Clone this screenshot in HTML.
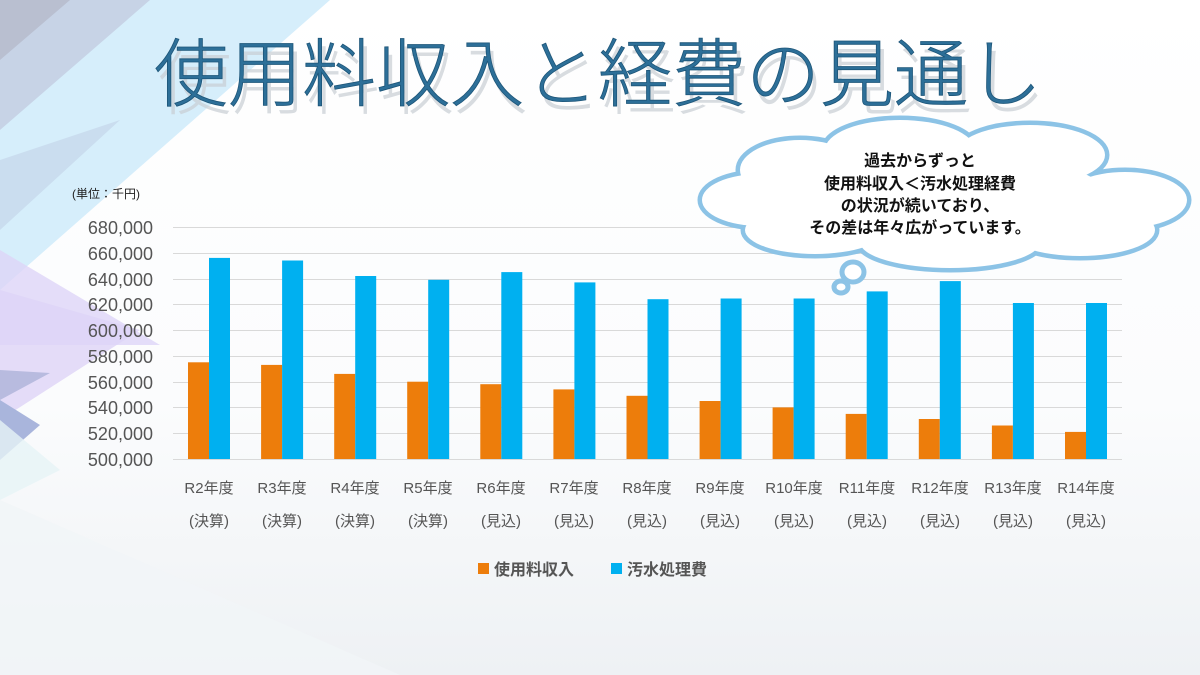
<!DOCTYPE html>
<html><head><meta charset="utf-8"><style>
html,body{margin:0;padding:0;width:1200px;height:675px;overflow:hidden;background:#fff}
svg text{font-family:"Liberation Sans","Noto Sans CJK JP",sans-serif}
</style></head><body>
<svg width="1200" height="675" viewBox="0 0 1200 675" xmlns="http://www.w3.org/2000/svg">
<defs>
<linearGradient id="bg" x1="0" y1="0" x2="0" y2="1"><stop offset="0" stop-color="#ffffff"/><stop offset="0.6" stop-color="#fbfcfd"/><stop offset="1" stop-color="#eef1f4"/></linearGradient>
</defs>
<rect width="1200" height="675" fill="url(#bg)"/>
<polygon points="0,0 330,0 0,290" fill="#d6eefb"/>
<polygon points="0,0 150,0 0,130" fill="#c7d3e6"/>
<polygon points="0,60 70,0 0,0" fill="#b9bfd0"/>
<polygon points="0,160 120,120 0,230" fill="#c5d6ea" opacity="0.7"/>
<polygon points="0,290 140,330 0,420" fill="#e4dcf8"/>
<polygon points="0,250 160,345 0,345" fill="#ddd5f7" opacity="0.8"/>
<polygon points="0,370 50,373 0,400" fill="#b8bbdf"/>
<polygon points="0,400 40,425 0,460" fill="#a9b5dc"/>
<polygon points="0,420 60,470 0,500" fill="#e6f4f6" opacity="0.8"/>
<polygon points="0,500 400,675 0,675" fill="#f1f5f8" opacity="0.8"/>
<!-- title -->
<text x="598" y="102" text-anchor="middle" font-size="74" fill="#c8ced4" opacity="0.7" style="font-family:'Noto Sans CJK JP',sans-serif" font-weight="300" transform="translate(4,6)">使用料収入と経費の見通し</text>
<text x="598" y="100" text-anchor="middle" font-size="74" fill="#2d6f98" stroke="#1d5578" stroke-width="0.8" style="font-family:'Noto Sans CJK JP',sans-serif" font-weight="300">使用料収入と経費の見通し</text>
<text x="72" y="198" font-size="12" fill="#222">(単位：千円)</text>
<!-- grid -->
<g stroke="#d9d9d9" stroke-width="1">
<line x1="173" x2="1122" y1="227.5" y2="227.5"/><line x1="173" x2="1122" y1="253.5" y2="253.5"/>
<line x1="173" x2="1122" y1="279.5" y2="279.5"/><line x1="173" x2="1122" y1="304.5" y2="304.5"/>
<line x1="173" x2="1122" y1="330.5" y2="330.5"/><line x1="173" x2="1122" y1="356.5" y2="356.5"/>
<line x1="173" x2="1122" y1="382.5" y2="382.5"/><line x1="173" x2="1122" y1="407.5" y2="407.5"/>
<line x1="173" x2="1122" y1="433.5" y2="433.5"/><line x1="173" x2="1122" y1="459.5" y2="459.5"/>
</g>
<g font-size="18" fill="#555" text-anchor="end">
<text x="153" y="234">680,000</text><text x="153" y="260">660,000</text><text x="153" y="286">640,000</text>
<text x="153" y="311">620,000</text><text x="153" y="337">600,000</text><text x="153" y="363">580,000</text>
<text x="153" y="389">560,000</text><text x="153" y="414">540,000</text><text x="153" y="440">520,000</text>
<text x="153" y="466">500,000</text>
</g>
<g fill="#ed7d0b">
<rect x="188" y="362.3" width="21" height="96.7"/><rect x="261.1" y="364.9" width="21" height="94.1"/>
<rect x="334.2" y="373.9" width="21" height="85.1"/><rect x="407.2" y="381.7" width="21" height="77.3"/>
<rect x="480.3" y="384.2" width="21" height="74.8"/><rect x="553.4" y="389.4" width="21" height="69.6"/>
<rect x="626.5" y="395.8" width="21" height="63.2"/><rect x="699.6" y="401" width="21" height="58"/>
<rect x="772.6" y="407.4" width="21" height="51.6"/><rect x="845.7" y="413.9" width="21" height="45.1"/>
<rect x="918.8" y="419" width="21" height="40"/><rect x="991.9" y="425.5" width="21" height="33.5"/>
<rect x="1065" y="431.9" width="21" height="27.1"/>
</g>
<g fill="#00b0f0">
<rect x="209" y="257.9" width="21" height="201.1"/><rect x="282.1" y="260.5" width="21" height="198.5"/>
<rect x="355.2" y="276" width="21" height="183"/><rect x="428.2" y="279.8" width="21" height="179.2"/>
<rect x="501.3" y="272.1" width="21" height="186.9"/><rect x="574.4" y="282.4" width="21" height="176.6"/>
<rect x="647.5" y="299.2" width="21" height="159.8"/><rect x="720.6" y="298.5" width="21" height="160.5"/>
<rect x="793.6" y="298.5" width="21" height="160.5"/><rect x="866.7" y="291.4" width="21" height="167.6"/>
<rect x="939.8" y="281.1" width="21" height="177.9"/><rect x="1012.9" y="303" width="21" height="156"/>
<rect x="1086" y="303" width="21" height="156"/>
</g>
<g font-size="15" fill="#555" text-anchor="middle">
<text x="209" y="493">R2年度</text><text x="282" y="493">R3年度</text><text x="355" y="493">R4年度</text>
<text x="428" y="493">R5年度</text><text x="501" y="493">R6年度</text><text x="574" y="493">R7年度</text>
<text x="647" y="493">R8年度</text><text x="720" y="493">R9年度</text><text x="794" y="493">R10年度</text>
<text x="867" y="493">R11年度</text><text x="940" y="493">R12年度</text><text x="1013" y="493">R13年度</text>
<text x="1086" y="493">R14年度</text>
<text x="209" y="526">(決算)</text><text x="282" y="526">(決算)</text><text x="355" y="526">(決算)</text>
<text x="428" y="526">(決算)</text><text x="501" y="526">(見込)</text><text x="574" y="526">(見込)</text>
<text x="647" y="526">(見込)</text><text x="720" y="526">(見込)</text><text x="794" y="526">(見込)</text>
<text x="867" y="526">(見込)</text><text x="940" y="526">(見込)</text><text x="1013" y="526">(見込)</text>
<text x="1086" y="526">(見込)</text>
</g>
<rect x="478" y="563" width="11" height="11" fill="#ed7d0b"/>
<text x="494" y="575" font-size="16" font-weight="bold" fill="#555">使用料収入</text>
<rect x="611" y="563" width="11" height="11" fill="#00b0f0"/>
<text x="627" y="575" font-size="16" font-weight="bold" fill="#555">汚水処理費</text>
<!-- cloud: stroke layer then same-shape fill layer => union outline -->
<g fill="#fff" stroke="#8cc3e6" stroke-width="9">
<ellipse cx="800" cy="170" rx="60" ry="30"/>
<ellipse cx="900" cy="150" rx="75" ry="30"/>
<ellipse cx="1030" cy="155" rx="75" ry="30"/>
<ellipse cx="1125" cy="200" rx="62" ry="28"/>
<ellipse cx="1080" cy="230" rx="75" ry="26"/>
<ellipse cx="950" cy="242" rx="90" ry="26"/>
<ellipse cx="815" cy="230" rx="70" ry="24"/>
<ellipse cx="760" cy="200" rx="58" ry="26"/>
<ellipse cx="940" cy="200" rx="170" ry="50"/>
</g>
<g fill="#fff" stroke="none">
<ellipse cx="800" cy="170" rx="60" ry="30"/>
<ellipse cx="900" cy="150" rx="75" ry="30"/>
<ellipse cx="1030" cy="155" rx="75" ry="30"/>
<ellipse cx="1125" cy="200" rx="62" ry="28"/>
<ellipse cx="1080" cy="230" rx="75" ry="26"/>
<ellipse cx="950" cy="242" rx="90" ry="26"/>
<ellipse cx="815" cy="230" rx="70" ry="24"/>
<ellipse cx="760" cy="200" rx="58" ry="26"/>
<ellipse cx="940" cy="200" rx="170" ry="50"/>
</g>
<g fill="#fff" stroke="#8cc3e6" stroke-width="5">
<ellipse cx="853" cy="272" rx="11" ry="10"/>
<ellipse cx="841" cy="287" rx="7" ry="6"/>
</g>
<g font-size="16" font-weight="bold" fill="#111" text-anchor="middle" style="font-family:'Noto Serif CJK SC','Noto Sans CJK JP',serif">
<text x="920" y="166">過去からずっと</text>
<text x="920" y="189">使用料収入＜汚水処理経費</text>
<text x="920" y="211">の状況が続いており、</text>
<text x="920" y="233">その差は年々広がっています。</text>
</g>
</svg>
</body></html>
